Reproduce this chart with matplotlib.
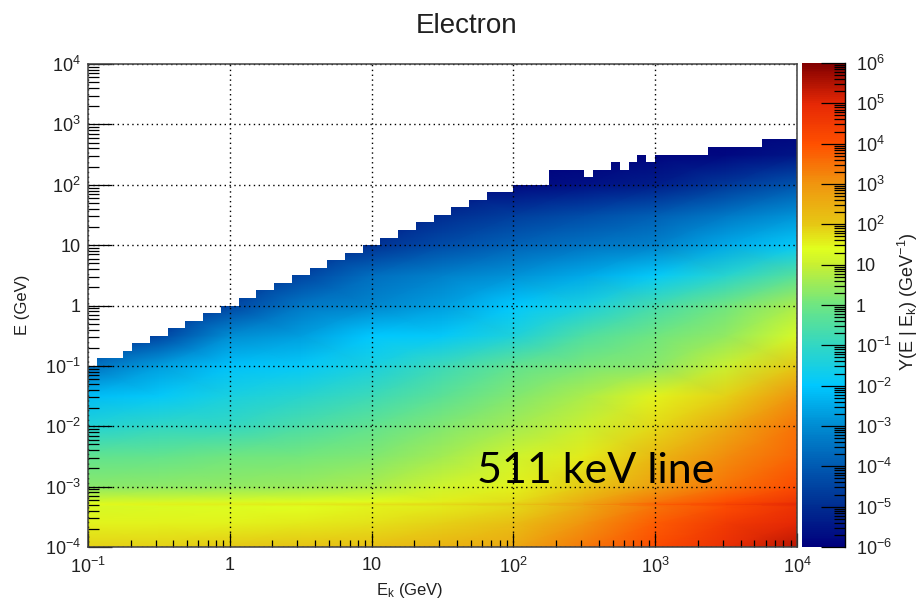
#!/usr/bin/env python3
"""
Electron yield map: Y(E | Ek) with the 511 keV line
"""

import numpy as np
import matplotlib
matplotlib.use('Agg')
import matplotlib.pyplot as plt
from matplotlib.colors import LinearSegmentedColormap, LogNorm
from matplotlib.ticker import FixedLocator, NullFormatter

plt.rcParams['font.family'] = ['Liberation Sans', 'DejaVu Sans']
plt.rcParams['mathtext.default'] = 'regular'

# log10(Ek / GeV) and log10(E / GeV) of the values
LOG_EK = [-1, -0.5, 0, 0.5, 1, 1.5, 2, 2.5, 3, 3.5, 4]
LOG_E = [-4, -3.6, -3.33, -3.29, -3.25, -3, -2.5, -2, -1.5, -1, -0.5, 0, 0.5, 1, 1.5, 2, 2.5, 3]

# log10 Y per row of LOG_E, one value per LOG_EK
LOG_Y = [
    [1.9, 1.9, 2.0, 2.1, 2.2, 2.4, 2.6, 3.4, 4.1, 4.8, 5.4],
    [1.5, 1.5, 1.5, 1.6, 1.7, 1.9, 2.2, 3.0, 3.8, 4.5, 5.0],
    [1.25, 1.3, 1.35, 1.4, 1.5, 1.6, 1.8, 2.6, 3.5, 4.1, 4.7],
    [1.45, 1.5, 1.55, 1.6, 1.7, 1.8, 2.0, 2.8, 3.75, 4.35, 5.0],  # 511 keV line
    [1.2, 1.25, 1.3, 1.35, 1.45, 1.55, 1.75, 2.55, 3.45, 4.05, 4.65],
    [0.3, 0.35, 0.4, 0.5, 0.7, 1.1, 1.5, 2.0, 2.8, 3.5, 4.1],
    [-0.2, -0.15, 0.0, 0.05, 0.2, 0.6, 1.1, 1.6, 2.3, 3.1, 3.7],
    [-1.3, -1.0, -0.95, -0.6, -0.2, 0.2, 0.6, 1.0, 1.8, 2.6, 3.5],
    [-2.2, -1.9, -1.5, -1.2, -0.8, -0.3, 0.2, 0.7, 1.5, 1.9, 3.0],
    [-3.6, -2.7, -2.1, -1.9, -1.5, -0.8, -0.2, 0.1, 0.3, 1.0, 2.0],
    [-5, -4.5, -3.0, -2.7, -2.0, -1.9, -1.4, -0.5, 0.0, 0.4, 1.25],
    [-5, -5, -4.5, -3.4, -3.1, -2.7, -2.0, -1.5, -0.7, 0.0, 0.7],
    [-5, -5, -5, -4.5, -3.6, -3.2, -2.9, -2.5, -1.9, -1.2, -0.4],
    [-5, -5, -5, -5, -4.9, -4.3, -3.8, -3.5, -3.2, -2.5, -1.9],
    [-5.5, -5.5, -5.5, -5.5, -5.5, -5, -4.6, -4.3, -3.9, -3.4, -2.9],
    [-6, -6, -6, -6, -6, -5.5, -5.8, -5.6, -5.3, -4.7, -4.1],
    [-6, -6, -6, -6, -6, -6, -6, -6, -5.9, -5.8, -5.5],
    [-6, -6, -6, -6, -6, -6, -6, -6, -6, -6, -6],
]

# Upper edge of the filled region: one E bin number (8 per decade above 1e-4 GeV)
# for each of the 80 Ek columns (16 per decade)
EDGE_BIN = [
    24, 25, 25, 25, 26, 27, 27, 28, 28, 29, 29, 30, 30, 31, 31, 32,
    32, 33, 33, 34, 34, 35, 35, 36, 36, 37, 37, 38, 38, 39, 39, 40,
    40, 41, 41, 42, 42, 43, 43, 44, 44, 45, 45, 46, 46, 47, 47, 47,
    48, 48, 48, 48, 50, 50, 50, 50, 49, 50, 50, 51, 50, 51, 52, 51,
    52, 52, 52, 52, 52, 52, 53, 53, 53, 53, 53, 53, 54, 54, 54, 54,
]

CBAR_POS = [-6, -5, -4, -3, -2, -1, 0, 1, 1.4, 2, 3, 4, 5, 6]
CBAR_RGB = [
    (0, 0, 125), (0, 45, 145), (0, 90, 178), (0, 140, 210), (0, 200, 255),
    (50, 215, 195), (110, 230, 130), (200, 240, 50), (225, 255, 30),
    (230, 200, 20), (240, 150, 15), (255, 80, 0), (230, 40, 5), (130, 0, 0),
]

X_TICKS = [0.1, 1, 10, 100, 1000, 10000]
X_LABELS = ['$10^{-1}$', '1', '10', '$10^{2}$', '$10^{3}$', '$10^{4}$']
Y_TICKS = [1e-4, 1e-3, 1e-2, 0.1, 1, 10, 100, 1000, 10000]
Y_LABELS = ['$10^{-4}$', '$10^{-3}$', '$10^{-2}$', '$10^{-1}$', '1', '10',
            '$10^{2}$', '$10^{3}$', '$10^{4}$']
CBAR_TICKS = [1e-6, 1e-5, 1e-4, 1e-3, 1e-2, 0.1, 1, 10, 100, 1e3, 1e4, 1e5, 1e6]
CBAR_LABELS = ['$10^{-6}$', '$10^{-5}$', '$10^{-4}$', '$10^{-3}$', '$10^{-2}$', '$10^{-1}$',
               '1', '10', '$10^{2}$', '$10^{3}$', '$10^{4}$', '$10^{5}$', '$10^{6}$']

W, H = 922, 600
PX = 72.0 / 100  # one pixel in points
TEXT_COLOR = '#202020'


def minor_ticks(lo, hi):
    """
    2..9 times every decade between two powers of ten
    """
    return [m * 10.0 ** d for d in range(lo, hi) for m in range(2, 10)]


def px_axes(fig, left, top, right, bottom):
    return fig.add_axes([left / W, 1 - bottom / H, (right - left) / W, (bottom - top) / H])


fig = plt.figure(figsize=(W / 100, H / 100), dpi=100)
ax = px_axes(fig, 88, 64, 797, 547)
cax = px_axes(fig, 802, 63, 844.5, 547)

cmap = LinearSegmentedColormap.from_list(
    'yield', [((p + 6) / 12, tuple(c / 255 for c in rgb)) for p, rgb in zip(CBAR_POS, CBAR_RGB)], N=256)
norm = LogNorm(1e-6, 1e6)

ek = 10.0 ** np.array(LOG_EK)
e = 10.0 ** np.array(LOG_E)
y = 10.0 ** np.array(LOG_Y)
mesh = ax.pcolormesh(ek, e, y, cmap=cmap, norm=norm, shading='gouraud', zorder=1)

# White out everything above the upper edge of the map
col_edges = 10.0 ** (-1 + np.arange(len(EDGE_BIN) + 1) / 16)
edge_e = 10.0 ** (-4 + np.array(EDGE_BIN + [EDGE_BIN[-1]]) / 8)
ax.fill_between(col_edges, edge_e, 1e4, step='post', color='white', lw=0, zorder=2)

ax.set_xscale('log')
ax.set_yscale('log')
ax.set_xlim(0.1, 1e4)
ax.set_ylim(1e-4, 1e4)

ax.xaxis.set_major_locator(FixedLocator(X_TICKS))
ax.xaxis.set_minor_locator(FixedLocator(minor_ticks(-1, 4)))
ax.xaxis.set_minor_formatter(NullFormatter())
ax.set_xticklabels(X_LABELS)
ax.yaxis.set_major_locator(FixedLocator(Y_TICKS))
ax.yaxis.set_minor_locator(FixedLocator(minor_ticks(-4, 4)))
ax.yaxis.set_minor_formatter(NullFormatter())
ax.set_yticklabels(Y_LABELS)

ax.tick_params(axis='x', which='major', direction='in', length=14 * PX, width=0.9,
               labelsize=13, pad=7, labelcolor=TEXT_COLOR)
ax.tick_params(axis='x', which='minor', direction='in', length=7 * PX, width=0.9)
ax.tick_params(axis='y', which='major', direction='in', length=24 * PX, width=0.9,
               labelsize=13, pad=5, labelcolor=TEXT_COLOR)
ax.tick_params(axis='y', which='minor', direction='in', length=11 * PX, width=0.9)

ax.grid(True, which='major', color='black', linestyle=(0, (1, 2.5)), linewidth=1)
ax.set_axisbelow(False)
for side in ax.spines:
    ax.spines[side].set_color('#404040')
    ax.spines[side].set_linewidth(1.1)
    ax.spines[side].set_zorder(6)

cbar = fig.colorbar(mesh, cax=cax)
cbar.outline.set_visible(False)
cax.yaxis.set_major_locator(FixedLocator(CBAR_TICKS))
cax.yaxis.set_minor_locator(FixedLocator(minor_ticks(-6, 6)))
cax.yaxis.set_minor_formatter(NullFormatter())
cax.set_yticklabels(CBAR_LABELS)
cax.tick_params(axis='y', which='major', direction='in', length=24 * PX, width=0.9,
                labelsize=13, pad=8, right=True, labelcolor=TEXT_COLOR)
cax.tick_params(axis='y', which='minor', direction='in', length=11 * PX, width=0.9, right=True)
cax.spines['right'].set_visible(True)
cax.spines['right'].set_linewidth(1)

fig.text(467 / W, 1 - 26 / H, 'Electron', fontsize=20, ha='center', va='center', color=TEXT_COLOR)
fig.text(23 / W, 1 - 305 / H, 'E (GeV)', fontsize=12, rotation=90, ha='center', va='center', color=TEXT_COLOR)
fig.text(410 / W, 1 - 590 / H, '$E_{k}$ (GeV)', fontsize=12, ha='center', va='center', color=TEXT_COLOR)
fig.text(908 / W, 1 - 302 / H, 'Y(E | $E_{k}$) (GeV$^{-1}$)', fontsize=13, rotation=90,
         ha='center', va='center', color=TEXT_COLOR)

# Annotation placed on the slide over the figure
fig.text(477 / W, 1 - 483 / H, '511 keV line', fontsize=31, family='Lato', ha='left', va='baseline',
         color='black', zorder=10)

fig.savefig('out.png', dpi=100)
